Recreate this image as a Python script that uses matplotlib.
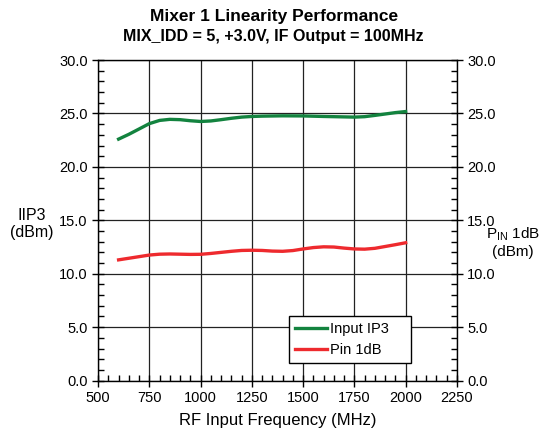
import numpy as np
import matplotlib.pyplot as plt
from matplotlib.ticker import MultipleLocator, FormatStrFormatter

plt.rcParams['font.family'] = ['Liberation Sans', 'DejaVu Sans']

# frequency points (MHz)
freq_ip3 = [600, 650, 700, 750, 800, 850, 900, 950, 1000, 1050, 1100, 1150, 1200,
            1250, 1300, 1400, 1500, 1600, 1700, 1750, 1800, 1850, 1900, 1950, 2000]
input_ip3 = [22.6, 23.05, 23.55, 24.05, 24.35, 24.45, 24.42, 24.32, 24.25, 24.3, 24.42,
             24.55, 24.66, 24.72, 24.75, 24.78, 24.77, 24.72, 24.68, 24.66, 24.7,
             24.82, 24.95, 25.08, 25.18]

freq_p1 = [600, 650, 700, 750, 800, 850, 900, 950, 1000, 1050, 1100, 1150, 1200, 1250,
           1300, 1350, 1400, 1450, 1500, 1550, 1600, 1650, 1700, 1750, 1800, 1850,
           1900, 1950, 2000]
pin_1db = [11.3, 11.45, 11.6, 11.75, 11.83, 11.85, 11.83, 11.81, 11.82, 11.9, 12.0,
           12.1, 12.18, 12.2, 12.18, 12.12, 12.1, 12.17, 12.32, 12.45, 12.52, 12.5,
           12.4, 12.32, 12.3, 12.38, 12.55, 12.72, 12.9]

fig = plt.figure(figsize=(5.42, 4.32), dpi=100)
ax = fig.add_axes([0.181, 0.119, 0.662, 0.742])

ax.plot(freq_ip3, input_ip3, color='#13833f', lw=2.4, label='Input IP3')
ax.plot(freq_p1, pin_1db, color='#ee2a2e', lw=2.4, label='Pin 1dB')

ax.set_xlim(500, 2250)
ax.set_ylim(0, 30)
ax.xaxis.set_major_locator(MultipleLocator(250))
ax.xaxis.set_minor_locator(MultipleLocator(50))
ax.yaxis.set_major_locator(MultipleLocator(5))
ax.yaxis.set_minor_locator(MultipleLocator(1))
ax.yaxis.set_major_formatter(FormatStrFormatter('%.1f'))
ax.grid(True, which='major', color='#222222', lw=0.9)
ax.set_axisbelow(True)

ax.tick_params(which='major', direction='inout', length=8, width=1, labelsize=10.5,
               right=True, labelright=True)
ax.tick_params(which='minor', direction='in', length=4, width=1, right=True)
for s in ax.spines.values():
    s.set_linewidth(1)

ax.set_xlabel('RF Input Frequency (MHz)', fontsize=12, labelpad=6)
fig.text(0.059, 0.481, 'IIP3\n(dBm)', fontsize=11.5, ha='center', va='center')
fig.text(0.947, 0.44, 'P$_{\\mathregular{IN}}$ 1dB\n(dBm)', fontsize=11,
         ha='center', va='center')

fig.text(0.505, 0.962, 'Mixer 1 Linearity Performance', fontsize=12.5,
         fontweight='bold', ha='center', va='center')
fig.text(0.505, 0.916, 'MIX_IDD = 5, +3.0V, IF Output = 100MHz', fontsize=11.5,
         fontweight='bold', ha='center', va='center')

leg = ax.legend(loc='lower left', bbox_to_anchor=(0.532, 0.055, 0.34, 0.146),
                mode='expand', fancybox=False, framealpha=1, edgecolor='black',
                fontsize=10.5, handlelength=2.2, handletextpad=0.2,
                borderaxespad=0)
leg.get_frame().set_linewidth(1)

fig.savefig('out.png', dpi=100)
